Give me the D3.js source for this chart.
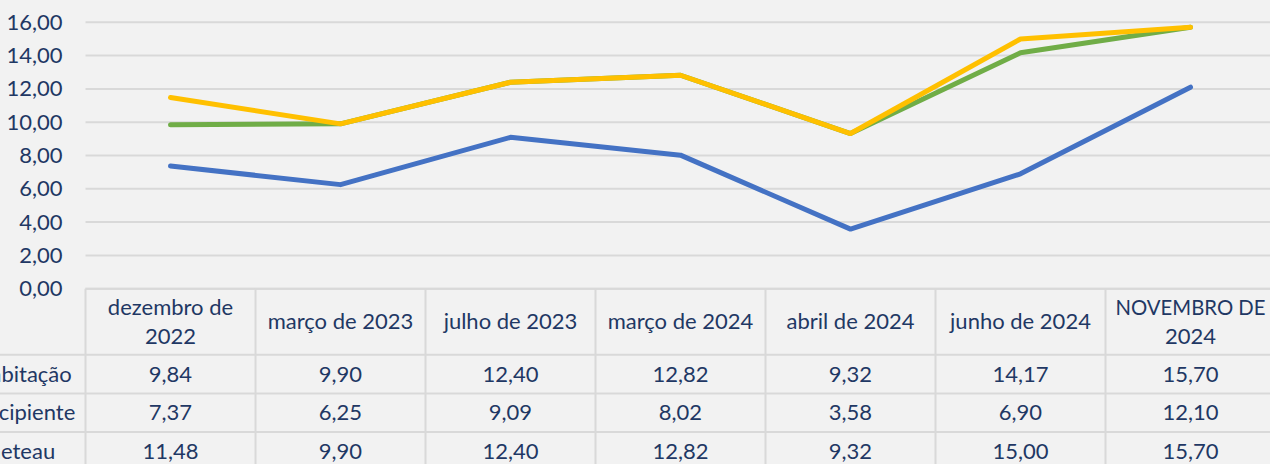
<!DOCTYPE html>
<html>
<head>
<meta charset="utf-8">
<script src="https://cdn.jsdelivr.net/npm/d3@7"></script>
<style>
html, body { margin: 0; padding: 0; background: #f2f2f2; overflow: hidden; }
svg { display: block; font-family: Lato, "Open Sans", sans-serif; }
</style>
</head>
<body>
<svg id="chart" width="1270" height="464"></svg>
<script>
// data
const categories = ["dezembro de 2022", "março de 2023", "julho de 2023", "março de 2024",
                    "abril de 2024", "junho de 2024", "NOVEMBRO DE 2024"];
const seriesNames = ["Habitação", "Recipiente", "Cheteau"];
const habitacao  = [9.84, 9.90, 12.40, 12.82, 9.32, 14.17, 15.70];
const recipiente = [7.37, 6.25, 9.09, 8.02, 3.58, 6.90, 12.10];
const cheteau    = [11.48, 9.90, 12.40, 12.82, 9.32, 15.00, 15.70];
const yTicks = [0, 2, 4, 6, 8, 10, 12, 14, 16];

const seriesValues = [habitacao, recipiente, cheteau];
const colors = ["#70ad47", "#4472c4", "#ffc000"];

const svg = d3.select("#chart");
const W = +svg.attr("width"), H = +svg.attr("height");
const textColor = "#1f3864";
const gridColor = "#d9d9d9";
const fontSize = 22;

let margin = {top: 22.3, left: 85.5};
let plotBottom = 288.7;
let colWidth = 170;
let headerH = 66;
let rowH = 38.7;

let x = d3.scaleBand()
    .domain(categories)
    .range([margin.left, margin.left + colWidth * categories.length]);
let y = d3.scaleLinear().domain([0, 16]).range([plotBottom, margin.top]);

let locale = d3.formatLocale({decimal: ",", thousands: ".", grouping: [3], currency: ["", ""]});
let fmt = locale.format(".2f");

// gridlines
svg.append("g")
    .selectAll("line")
    .data(yTicks)
    .enter().append("line")
    .attr("x1", margin.left).attr("x2", W)
    .attr("y1", d => y(d)).attr("y2", d => y(d))
    .attr("stroke", gridColor).attr("stroke-width", 2);

// y axis labels
let yAxis = svg.append("g")
    .attr("transform", `translate(${margin.left - 23}, 0)`)
    .call(d3.axisLeft(y).tickValues(yTicks).tickFormat(fmt).tickSize(0).tickPadding(0));
yAxis.select(".domain").remove();
yAxis.selectAll("text")
    .attr("font-family", "Lato, 'Open Sans', sans-serif")
    .attr("font-size", fontSize)
    .attr("fill", textColor);

// lines
let line = d3.line()
    .x((d, i) => x(categories[i]) + x.bandwidth() / 2)
    .y(d => y(d));

svg.append("g")
    .selectAll("path")
    .data(seriesValues)
    .enter().append("path")
    .attr("d", d => line(d))
    .attr("fill", "none")
    .attr("stroke", (d, i) => colors[i])
    .attr("stroke-width", 5)
    .attr("stroke-linejoin", "round")
    .attr("stroke-linecap", "round");

// data table
let table = svg.append("g");
let tableTop = plotBottom;
let rowTops = seriesNames.map((s, i) => tableTop + headerH + i * rowH);

// horizontal lines: header top only over the columns, row lines across full width
table.append("line")
    .attr("x1", margin.left).attr("x2", W)
    .attr("y1", tableTop).attr("y2", tableTop)
    .attr("stroke", gridColor).attr("stroke-width", 2);
table.selectAll(".hrow")
    .data(rowTops.concat([tableTop + headerH + seriesNames.length * rowH]))
    .enter().append("line")
    .attr("class", "hrow")
    .attr("x1", 0).attr("x2", W)
    .attr("y1", d => d).attr("y2", d => d)
    .attr("stroke", gridColor).attr("stroke-width", 2);
table.selectAll(".vcol")
    .data(categories.concat([null]))
    .enter().append("line")
    .attr("class", "vcol")
    .attr("x1", (d, i) => margin.left + i * x.step())
    .attr("x2", (d, i) => margin.left + i * x.step())
    .attr("y1", tableTop).attr("y2", H)
    .attr("stroke", gridColor).attr("stroke-width", 2);

// header labels, wrapped to the column width; over-long lines squeezed a bit
let lineGap = 29;
let maxLine = 150;
categories.forEach((c) => {
    let words = c.split(" ");
    let lines = [];
    let cur = "";
    let probe = table.append("text").attr("font-size", fontSize);
    words.forEach((w) => {
        let test = cur ? cur + " " + w : w;
        probe.text(test);
        if (probe.node().getComputedTextLength() > colWidth - 2 && cur) {
            lines.push(cur);
            cur = w;
        } else {
            cur = test;
        }
    });
    lines.push(cur);
    let cy = tableTop + headerH / 2;
    lines.forEach((l, j) => {
        probe.text(l);
        let len = probe.node().getComputedTextLength();
        let t = table.append("text")
            .attr("x", x(c) + x.bandwidth() / 2)
            .attr("y", cy + (j - (lines.length - 1) / 2) * lineGap)
            .attr("dy", "0.35em")
            .attr("text-anchor", "middle")
            .attr("font-size", fontSize)
            .attr("fill", textColor)
            .text(l);
        if (len > maxLine) t.attr("textLength", maxLine).attr("lengthAdjust", "spacingAndGlyphs");
    });
    probe.remove();
});

// row labels (cut off at the left edge, as in the source) and values
seriesNames.forEach((name, i) => {
    let cy = rowTops[i] + rowH / 2;
    table.append("text")
        .attr("x", -26)
        .attr("y", cy)
        .attr("dy", "0.35em")
        .attr("font-size", fontSize)
        .attr("fill", textColor)
        .text(name);
    table.selectAll(".v" + i)
        .data(seriesValues[i])
        .enter().append("text")
        .attr("x", (d, j) => x(categories[j]) + x.bandwidth() / 2)
        .attr("y", cy)
        .attr("dy", "0.35em")
        .attr("text-anchor", "middle")
        .attr("font-size", fontSize)
        .attr("fill", textColor)
        .text(d => fmt(d));
});
</script>
</body>
</html>
